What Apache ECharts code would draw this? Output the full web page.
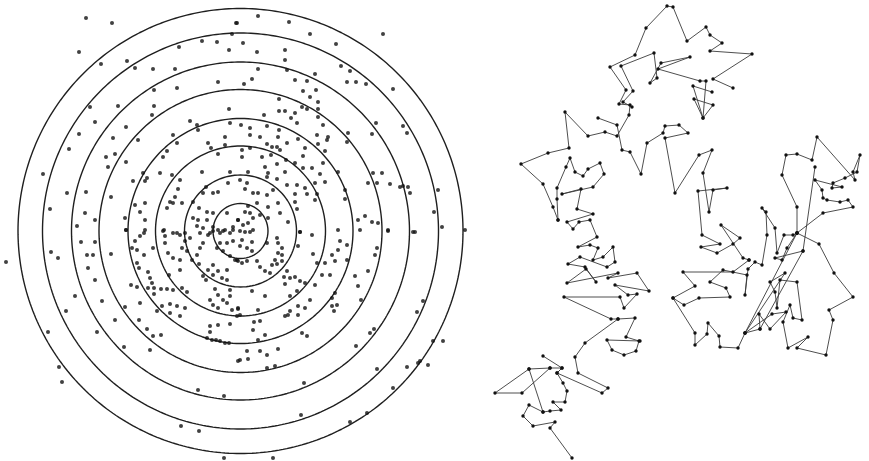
<!DOCTYPE html>
<html>
<head>
<meta charset="utf-8">
<script src="https://cdn.jsdelivr.net/npm/echarts@6/dist/echarts.min.js"></script>
<style>
  html, body { margin: 0; padding: 0; background: #ffffff; }
  #chart { width: 869px; height: 461px; }
</style>
</head>
<body>
<div id="chart"></div>
<script>
// Plane coordinates share one unit on both axes, so the rings stay round.
const plane = { width: 869, height: 461 };

// Concentric rings around the common origin of the dispersion diagram
const ringCenter = [240.5, 231];
const ringRadii = [27.5, 56, 85, 112.5, 141.5, 169, 198, 222.5];

// Final positions of the particles, each displacement carried back to the common origin
const particlePositions = [
  [86,18],[112,23],[236,23],[79,52],[202,41],[217,42],[232,34],[179,47],[229,50],[127,61],
  [101,64],[135,68],[153,69],[175,69],[218,82],[154,90],[177,88],[90,107],[118,106],[154,106],
  [229,109],[152,115],[95,122],[126,127],[190,121],[197,125],[198,130],[230,123],[79,134],[113,138],
  [138,140],[173,135],[177,143],[208,143],[225,137],[211,148],[225,145],[69,149],[106,157],[115,154],
  [167,151],[163,157],[218,154],[126,162],[108,167],[143,173],[147,178],[160,173],[172,175],[202,172],
  [230,172],[43,174],[133,181],[145,181],[180,180],[228,183],[206,187],[86,192],[67,193],[178,189],
  [175,197],[203,193],[213,193],[218,192],[111,197],[170,202],[173,203],[182,203],[193,202],[135,205],
  [145,203],[50,209],[167,208],[199,208],[207,212],[85,213],[213,213],[140,212],[227,213],[193,218],
  [198,220],[207,220],[145,220],[125,218],[95,220],[197,226],[203,228],[213,227],[218,230],[225,230],
  [233,227],[238,220],[220,233],[126,230],[164,230],[145,230],[77,226],[177,233],[185,233],[210,233],
  [258,16],[237,23],[289,22],[310,34],[383,34],[243,43],[336,44],[285,50],[257,52],[285,60],
  [341,66],[258,69],[287,70],[350,71],[315,74],[295,80],[252,79],[307,81],[347,82],[356,82],
  [366,84],[244,84],[316,90],[303,91],[393,89],[310,97],[279,99],[318,102],[302,107],[307,109],
  [318,109],[279,111],[285,111],[295,113],[264,115],[318,117],[291,118],[241,125],[250,128],[267,126],
  [279,130],[297,123],[323,125],[376,123],[403,126],[250,135],[260,137],[278,137],[287,143],[298,139],
  [317,135],[328,137],[348,133],[372,134],[407,133],[267,144],[272,147],[277,147],[318,144],[327,140],
  [347,142],[242,150],[250,148],[262,157],[271,155],[280,150],[305,148],[325,151],[242,157],[286,160],
  [295,163],[303,156],[323,163],[265,167],[277,164],[312,168],[248,172],[268,173],[285,172],[303,168],
  [320,174],[338,172],[373,173],[382,173],[368,183],[377,183],[390,184],[400,187],[403,186],[408,187],
  [410,193],[438,190],[240,180],[267,177],[277,179],[247,183],[245,189],[253,193],[258,193],[273,190],
  [267,195],[287,185],[297,185],[305,188],[315,183],[325,182],[295,194],[307,194],[317,194],[345,190],
  [315,200],[345,199],[295,202],[268,207],[278,203],[297,209],[248,206],[257,203],[250,213],[260,215],
  [245,212],[280,213],[238,220],[253,218],[243,225],[248,223],[268,218],[288,222],[358,220],[365,216],
  [372,222],[378,223],[338,230],[300,232],[388,230],[415,232],[434,212],[442,227],[465,230],[245,232],
  [253,230],
  [6,262],[51,252],[58,258],[81,242],[95,242],[87,255],[93,255],[111,254],[88,268],[126,230],
  [95,280],[75,296],[102,301],[66,311],[48,332],[97,332],[115,320],[125,307],[124,347],[59,367],
  [62,382],[132,248],[135,241],[140,236],[144,233],[137,250],[144,255],[153,248],[137,263],[139,268],
  [148,272],[150,278],[152,283],[131,285],[137,287],[148,288],[154,288],[161,289],[167,289],[173,290],
  [154,294],[140,303],[162,306],[170,304],[177,306],[182,288],[187,292],[157,311],[147,329],[153,336],
  [161,335],[139,320],[150,350],[169,275],[180,270],[170,313],[180,316],[185,308],[198,390],[224,396],
  [181,426],[199,431],[224,458],[163,231],[165,236],[165,243],[173,233],[180,235],[185,241],[190,238],
  [168,253],[173,258],[182,248],[180,260],[187,251],[192,260],[197,255],[200,248],[203,243],[200,233],
  [208,235],[213,231],[223,231],[230,233],[233,230],[220,243],[227,243],[233,241],[217,248],[223,251],
  [230,256],[235,260],[238,261],[199,264],[208,270],[213,265],[218,271],[227,270],[203,276],[213,275],
  [222,278],[227,280],[206,280],[215,289],[230,290],[210,300],[218,295],[223,300],[230,296],[213,305],
  [218,308],[227,303],[232,310],[238,309],[210,326],[218,325],[230,324],[210,332],[207,338],[212,340],
  [216,340],[220,341],[225,343],[229,343],[238,361],[237,316],
  [240,231],[250,232],[242,240],[252,242],[240,246],[247,248],[252,251],[237,260],[242,263],[247,261],
  [257,261],[260,267],[265,271],[270,273],[272,265],[277,264],[275,260],[282,261],[278,253],[282,255],
  [282,248],[277,238],[267,243],[278,243],[300,232],[312,235],[298,246],[313,254],[317,263],[325,263],
  [332,255],[335,261],[338,250],[340,241],[347,245],[347,260],[360,230],[375,255],[377,248],[388,231],
  [413,232],[287,271],[284,277],[290,278],[295,277],[300,281],[305,283],[315,285],[322,275],[330,275],
  [285,284],[297,291],[290,296],[310,300],[265,296],[252,291],[335,293],[332,298],[337,305],[332,306],
  [334,311],[298,306],[305,308],[290,311],[285,316],[288,315],[298,315],[238,308],[240,315],[258,310],
  [254,322],[260,321],[253,330],[265,335],[258,340],[302,333],[307,336],[355,276],[358,286],[368,271],
  [361,300],[370,333],[374,329],[356,346],[247,351],[260,351],[240,360],[248,359],[267,355],[278,349],
  [267,368],[275,366],[304,383],[377,369],[393,388],[407,367],[418,363],[420,361],[428,365],[417,312],
  [423,301],[433,341],[443,341],[301,415],[350,422],[367,413],[273,458]
];

// Tracings of one grain, position noted at equal time steps, drawn as connected paths
const trackTop = [
  [733,88],[713,79],[752,54],[710,51],[722,43],[710,35],[706,27],[687,41],[673,7],[667,6],
  [646,28],[635,55],[610,67],[626,90],[619,104],[630,105],[629,115],[617,136],[605,132],[588,136],
  [565,112],[569,148],[548,153],[521,164],[543,184],[553,207],[558,220]
];
const trackTopLoops = [
  [712,92],[693,86],[703,118],[713,105],[694,99],[703,118],[706,81],[700,81],[658,69],[690,57],
  [661,63],[650,83],[657,78],[654,53],[621,66],[633,91],[623,102],[632,107]
];
const trackMiddle = [
  [598,118],[617,125],[622,150],[630,152],[641,174],[647,143],[663,133],[665,126],[679,125],[688,133],
  [665,138],[675,193],[699,155],[712,150],[703,173],[709,212],[713,190],[727,188],[698,191],[702,235],
  [720,244],[701,247],[717,253],[733,244],[740,238],[721,225],[743,258],[749,260]
];
const trackLeftUpper = [
  [558,220],[557,199],[557,188],[566,167],[570,158],[575,172],[583,176],[588,169],[600,163],[604,174],
  [593,187],[562,194],[581,189],[577,209],[593,214],[567,222],[573,229],[579,222],[590,220],[597,237],
  [578,247],[590,245],[598,248],[593,260],[603,257],[613,247],[615,262],[607,267],[580,257],[568,264],
  [585,267],[596,282],[586,269],[567,283],[618,273],[608,278],[637,273],[649,291],[615,285],[628,295],
  [637,294],[624,308],[620,297],[564,297],[611,319],[618,319],[585,343],[575,357],[578,373],[608,388],
  [602,393],[557,373],[562,368],[543,356]
];
const trackLeftLoop = [
  [618,319],[635,318],[626,337],[639,341],[636,351],[624,355],[612,350],[607,340],[640,341]
];
const trackLeftLower = [
  [572,458],[550,428],[555,422],[533,426],[523,416],[529,405],[543,412],[550,411],[561,410],[553,402],
  [565,402],[567,391],[563,383],[557,373],[562,368],[550,368],[529,369],[495,393],[522,393],[550,368]
];
const trackLeftCross = [[529,369],[543,412]];
const trackRightWest = [
  [749,260],[733,272],[683,272],[695,286],[673,298],[684,305],[699,298],[730,297],[726,288],[710,282],
  [723,270],[747,275],[745,295],[748,269],[755,262],[762,265],[767,235],[766,212],[762,208],[775,228],
  [777,253],[784,235],[793,235],[797,233],[787,248],[782,260],[775,258],[803,251]
];
const trackRightEast = [
  [797,233],[797,207],[782,175],[786,155],[797,154],[812,160],[817,137],[855,180],[853,172],[860,155],
  [857,172],[845,178],[833,183],[832,188],[842,187],[815,180],[822,190],[823,198],[827,200],[840,202],
  [848,200],[853,207],[823,213],[797,233],[819,244],[834,273],[853,297],[829,310],[833,320],[826,355],
  [797,348],[808,337],[788,348],[783,322],[790,305],[793,318],[802,320],[797,282],[780,280],[777,308],
  [775,292],[770,282],[785,273],[745,333]
];
const trackRightSouth = [
  [673,298],[695,333],[695,345],[707,334],[708,323],[719,336],[720,347],[738,348],[745,333],[760,329],
  [759,314],[770,329],[786,312],[772,314],[745,333],[797,233]
];
const trackRightLinks = [[760,329],[803,251],[815,167]];

const tracks = [
  trackTop, trackTopLoops, trackMiddle, trackLeftUpper, trackLeftLoop, trackLeftLower,
  trackLeftCross, trackRightWest, trackRightEast, trackRightSouth, trackRightLinks
];

function ringPath(r) {
  const pts = [];
  const steps = 360;
  for (let i = 0; i <= steps; i++) {
    const a = (i / steps) * Math.PI * 2;
    pts.push([ringCenter[0] + r * Math.cos(a), ringCenter[1] + r * Math.sin(a)]);
  }
  return pts;
}

const series = [];
ringRadii.forEach(r => {
  series.push({
    type: 'line',
    data: ringPath(r),
    showSymbol: false,
    silent: true,
    lineStyle: { color: '#1f1f1f', width: 1.4 },
    z: 1
  });
});
series.push({
  type: 'scatter',
  data: particlePositions,
  symbolSize: 4,
  itemStyle: { color: '#111111' },
  z: 3
});
tracks.forEach(t => {
  series.push({
    type: 'line',
    data: t,
    symbol: 'circle',
    symbolSize: 3.4,
    showSymbol: true,
    lineStyle: { color: '#3a3a3a', width: 0.9 },
    itemStyle: { color: '#111111' },
    z: 2
  });
});

const chart = echarts.init(document.getElementById('chart'), null, { renderer: 'canvas' });
chart.setOption({
  backgroundColor: '#ffffff',
  animation: false,
  grid: { left: 0, right: 0, top: 0, bottom: 0 },
  xAxis: { type: 'value', min: 0, max: plane.width, show: false },
  yAxis: { type: 'value', min: 0, max: plane.height, inverse: true, show: false },
  series: series
});
</script>
</body>
</html>
